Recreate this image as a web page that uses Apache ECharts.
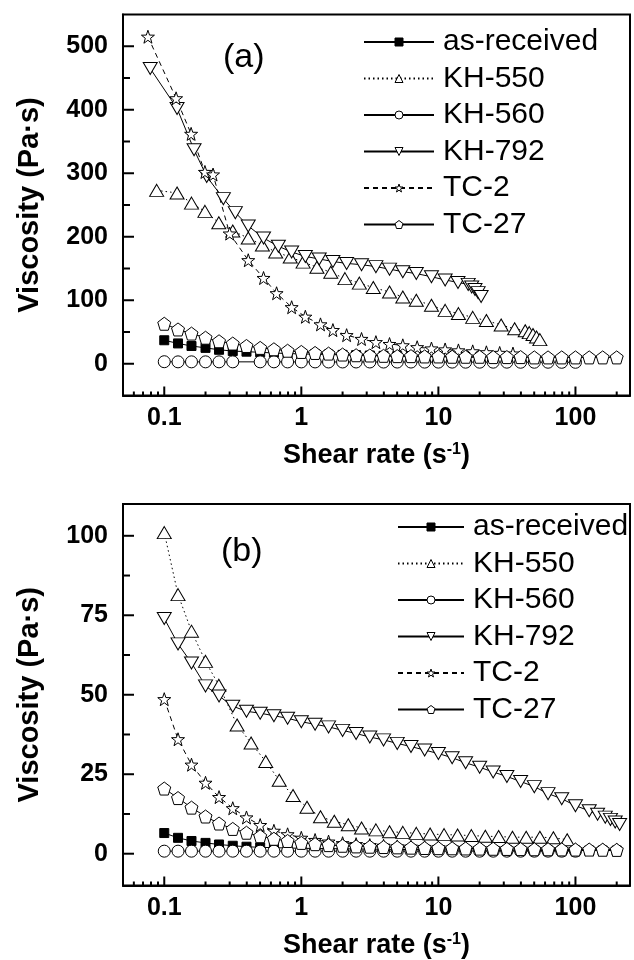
<!DOCTYPE html>
<html><head><meta charset="utf-8">
<script src="https://cdn.jsdelivr.net/npm/echarts@6/dist/echarts.min.js"></script>
<style>html,body{margin:0;padding:0;background:#fff}#c{width:634px;height:960px}</style>
</head><body><div id="c"></div>
<script>
// ---- tick values ----
const xTickLabels = [0.1, 1, 10, 100];
const xMinorTicks = [0.06,0.07,0.08,0.09,0.2,0.3,0.4,0.5,0.6,0.7,0.8,0.9,2,3,4,5,6,7,8,9,20,30,40,50,60,70,80,90,200];
const yTicksA = [0,100,200,300,400,500];
const yMinorA = [50,150,250,350,450];
const yTicksB = [0,25,50,75,100];
const yMinorB = [12.5,37.5,62.5,87.5];
const seriesNames = ['as-received','KH-550','KH-560','KH-792','TC-2','TC-27'];

// ---- panel (a) ----
const aAsRecX = [0.1,0.126,0.158,0.2,0.251,0.316,0.398,0.501,0.631,0.794,1,1.26,1.58,2,2.51,3.16,3.98,5.01,6.31,7.94,10,12.6,15.8,20];
const aAsRecY = [37,32,28,25,22,20,19,18,17,16,15.5,15,14.5,14,13.5,13,12.5,12,12,11.5,11,11,10.5,10];
const aKH550X = [0.088,0.124,0.158,0.198,0.25,0.316,0.41,0.52,0.65,0.83,1.03,1.3,1.64,2.08,2.65,3.35,4.4,5.5,6.9,8.9,11.2,14,17.8,22.4,28.7,36,43,46,49,52,55];
const aKH550Y = [273,269,253,240,222,209,198,187,176,168,160,152,144,134,127,120,113,105,100,92,84,79,73,68,61,55,52,49,46,42,38];
const aKH560X = [0.1,0.126,0.158,0.2,0.251,0.316,0.501,0.631,0.794,1,1.26,1.58,2,2.51,3.16,3.98,5.01,6.31,7.94,10,12.6,15.8,20,25.1,31.6,39.8,50.1,63.1,79.4,100];
const aKH560Y = [3.2,3,3,3,3,3,3,3,2.9,2.9,2.9,2.8,2.8,2.8,2.8,2.7,2.7,2.7,2.6,2.6,2.6,2.5,2.5,2.5,2.5,2.4,2.4,2.4,2.3,2.3];
const aKH792X = [0.079,0.124,0.165,0.204,0.27,0.33,0.41,0.53,0.68,0.85,1.07,1.35,1.7,2.14,2.75,3.5,4.4,5.5,6.9,8.9,11.2,13.9,16.5,17.5,18.5,19.5,20.5];
const aKH792Y = [465,402,337,295,260,238,217,198,185,176,169,165,161,158,156,153,149,145,142,137,132,128,125,121,117,112,106];
const aTC2X = [0.076,0.122,0.157,0.198,0.227,0.3,0.41,0.53,0.66,0.85,1.07,1.38,1.7,2.14,2.75,3.5,4.4,5.5,7,8.9,11.2,14,17.8,22.4,28,35];
const aTC2Y = [515,418,362,302,298,205,163,135,111,89,74,62,53,45,39,34,31,29,26,24,22.5,21,19.5,18,17,16];
const aTC27X = [0.1,0.126,0.158,0.2,0.251,0.316,0.398,0.501,0.631,0.794,1,1.26,1.58,2,2.51,3.16,3.98,5.01,6.31,7.94,10,12.6,15.8,20,25.1,31.6,39.8,50.1,63.1,79.4,100,126,158,200];
const aTC27Y = [63,54,47.5,41,35.4,31.8,28,25,22.8,20.5,18.6,17,16,14.5,13.4,13,12.5,12,12,11.5,11.5,11,11,11,10.5,10.5,10.5,10,10,10,10,10,10,10];

// ---- panel (b) ----
const bAsRecX = [0.1,0.126,0.158,0.2,0.251,0.316,0.398,0.501,0.631,0.794,1,1.26,1.58,2,2.51,3.16,3.98,5.01,6.31,7.94,10,12.6,15.8,20,25.1,31.6,39.8,50.1,63.1,79.4,100,126,158,200];
const bAsRecY = [6.5,5,4,3.4,2.9,2.5,2.2,2,1.9,1.8,1.7,1.65,1.6,1.55,1.5,1.45,1.4,1.35,1.3,1.3,1.25,1.2,1.2,1.15,1.1,1.1,1.05,1.05,1,1,1,1,1,1];
const bKH550X = [0.1,0.126,0.158,0.2,0.25,0.34,0.43,0.55,0.69,0.87,1.1,1.38,1.74,2.2,2.75,3.5,4.4,5.5,6.9,8.7,11,13.8,17.4,22,27.5,34.7,43.7,55,69,87];
const bKH550Y = [101,81.5,70,60.5,53,40.5,34.8,29,23.1,18.3,14.6,11.6,10.2,9.1,8.1,7.5,6.9,6.7,6.4,6.2,6,5.9,5.7,5.5,5.4,5.2,5.2,5.2,5,4.4];
const bKH560X = [0.1,0.126,0.158,0.2,0.251,0.316,0.398,0.501,0.631,0.794,1,1.26,1.58,2,2.51,3.16,3.98,5.01,6.31,7.94,10,12.6,15.8,20,25.1,31.6,39.8,50.1,63.1,79.4,100];
const bKH560Y = [0.8,0.8,0.8,0.8,0.8,0.8,0.8,0.8,0.8,0.8,0.8,0.8,0.8,0.8,0.8,0.8,0.8,0.8,0.8,0.8,0.8,0.8,0.8,0.8,0.8,0.8,0.8,0.8,0.8,0.8,0.8];
const bKH792X = [0.1,0.126,0.158,0.2,0.251,0.316,0.398,0.501,0.631,0.794,1,1.26,1.58,2,2.51,3.16,3.98,5.01,6.31,7.94,10,12.6,15.8,20,25.1,31.6,39.8,50.1,63.1,79.4,100,126,145,165,180,195,210];
const bKH792Y = [74,66,60,52.8,49.6,46.4,44.8,44.2,43.4,42.6,41.5,40.7,39.9,38.8,37.8,36.7,35.8,34.7,33.7,32.6,31.5,30.2,28.6,27.2,25.7,24.3,22.7,21.1,18.9,17.3,15.1,13.5,12.4,11.5,10.8,10,9.2];
const bTC2X = [0.1,0.126,0.158,0.2,0.251,0.316,0.398,0.501,0.631,0.794,1,1.26,1.58,2,2.51,3.16,3.98,5.01,6.31,7.94,10,12.6,15.8,20,25.1,31.6,39.8,50.1,63.1,79.4,100,126,158,200];
const bTC2Y = [48.6,36,28,22.3,17.8,14.3,11.4,9,7.2,6.1,5,4.3,3.8,3.3,3,2.7,2.5,2.3,2.2,2.1,2,1.9,1.8,1.75,1.7,1.6,1.55,1.5,1.45,1.4,1.35,1.3,1.3,1.25];
const bTC27X = [0.1,0.126,0.158,0.2,0.251,0.316,0.398,0.501,0.631,0.794,1,1.26,1.58,2,2.51,3.16,3.98,5.01,6.31,7.94,10,12.6,15.8,20,25.1,31.6,39.8,50.1,63.1,79.4,100,126,158,200];
const bTC27Y = [20.5,17.5,14.5,11.7,9.5,7.8,6.6,5.5,4.7,4,3.4,3,2.7,2.5,2.3,2.2,2.1,2,1.9,1.8,1.75,1.7,1.65,1.6,1.55,1.5,1.45,1.4,1.4,1.35,1.3,1.3,1.25,1.2];

// ---- build ----
const FONT = "'Liberation Sans', Arial, sans-serif";
const STAR = 'path://M50 0L61.76 33.82L97.55 34.55L69.02 56.18L79.39 90.45L50 70L20.61 90.45L30.98 56.18L2.45 34.55L38.24 33.82Z';
const PENT = 'path://M50 0L97.55 34.55L79.39 90.45L20.61 90.45L2.45 34.55Z';
const DOWN = 'path://M0 0L100 0L50 86Z';
const X_MIN = 0.05, X_MAX = 250;
const look = {
  'as-received': {symbol:'rect', size:9, fill:'#000', dash:'solid'},
  'KH-550': {symbol:'triangle', size:[14,12], fill:'#fff', dash:[1.5,3]},
  'KH-560': {symbol:'circle', size:12, fill:'#fff', dash:'solid'},
  'KH-792': {symbol:DOWN, size:[14,12], fill:'#fff', dash:'solid'},
  'TC-2': {symbol:STAR, size:13, fill:'#fff', dash:[5,4]},
  'TC-27': {symbol:PENT, size:13, fill:'#fff', dash:'solid'}
};
const pts = (xs, ys) => xs.map((x, i) => [x, ys[i]]);
const panelA = [pts(aAsRecX,aAsRecY), pts(aKH550X,aKH550Y), pts(aKH560X,aKH560Y), pts(aKH792X,aKH792Y), pts(aTC2X,aTC2Y), pts(aTC27X,aTC27Y)];
const panelB = [pts(bAsRecX,bAsRecY), pts(bKH550X,bKH550Y), pts(bKH560X,bKH560Y), pts(bKH792X,bKH792Y), pts(bTC2X,bTC2Y), pts(bTC27X,bTC27Y)];

function mkSeries(data, gi) {
  return seriesNames.map((n, i) => ({
    name: n, type: 'line', xAxisIndex: gi, yAxisIndex: gi,
    data: data[i], symbol: look[n].symbol, symbolSize: look[n].size,
    showAllSymbol: true, clip: true, z: 3,
    lineStyle: {color: '#000', width: 1, type: look[n].dash},
    itemStyle: {color: look[n].fill, borderColor: '#000', borderWidth: 1},
    emphasis: {disabled: true}
  }));
}
// tick marks drawn through the axes' own scales
function tickSeries(gi, yMin, yMajor, yMinor) {
  const xData = [...xTickLabels.map(v => [v, yMin, 9]), ...xMinorTicks.map(v => [v, yMin, 4])];
  const yData = [...yMajor.map(v => [X_MIN, v, 11]), ...yMinor.map(v => [X_MIN, v, 7])];
  const common = {type: 'custom', xAxisIndex: gi, yAxisIndex: gi, silent: true, clip: false, z: 4,
    encode: {x: 0, y: 1}, animation: false};
  return [
    {...common, data: xData, renderItem: (p, api) => {
      const c = api.coord([api.value(0), api.value(1)]);
      return {type: 'line', shape: {x1: c[0], y1: c[1], x2: c[0], y2: c[1] - api.value(2)}, style: {stroke: '#000', lineWidth: 2}};
    }},
    {...common, data: yData, renderItem: (p, api) => {
      const c = api.coord([api.value(0), api.value(1)]);
      return {type: 'line', shape: {x1: c[0], y1: c[1], x2: c[0] + api.value(2), y2: c[1]}, style: {stroke: '#000', lineWidth: 2}};
    }}
  ];
}
const lbl = {fontFamily: FONT, fontWeight: 'bold', fontSize: 25, color: '#000'};
function xAxis(gi) {
  return {
    type: 'log', gridIndex: gi, min: X_MIN, max: X_MAX, logBase: 10,
    name: 'Shear rate (s{sup|-1})', nameLocation: 'middle', nameGap: 46,
    nameTextStyle: {fontFamily: FONT, fontWeight: 'bold', fontSize: 27, color: '#000',
      rich: {sup: {fontFamily: FONT, fontWeight: 'bold', fontSize: 16, color: '#000', verticalAlign: 'top', padding: [0,0,12,0]}}},
    axisLine: {show: true, onZero: false, lineStyle: {color: '#000', width: 2}},
    axisTick: {show: false},
    axisLabel: {customValues: xTickLabels, margin: 10, ...lbl},
    splitLine: {show: false}, minorTick: {show: false}
  };
}
function yAxis(gi, min, max, major) {
  return {
    type: 'value', gridIndex: gi, min: min, max: max,
    name: 'Viscosity (Pa·s)', nameLocation: 'middle', nameRotate: 90, nameGap: 79,
    nameTextStyle: {fontFamily: FONT, fontWeight: 'bold', fontSize: 29, color: '#000'},
    axisLine: {show: true, onZero: false, lineStyle: {color: '#000', width: 2}},
    axisTick: {show: false},
    axisLabel: {customValues: major, margin: 15, ...lbl},
    splitLine: {show: false}
  };
}
const legendItems = seriesNames.map(n => ({name: n, itemStyle: {color: look[n].fill, borderColor: '#000', borderWidth: 1}}));
const legendBase = {
  orient: 'vertical', itemGap: 6.5, itemHeight: 10,
  textStyle: {fontFamily: FONT, fontSize: 30, color: '#000', lineHeight: 30, padding: [0,0,0,4]},
  data: legendItems, selectedMode: false
};
const option = {
  animation: false,
  backgroundColor: '#fff',
  grid: [
    {left: 123, right: 4, top: 14.5, height: 381, show: true, borderColor: '#000', borderWidth: 2, backgroundColor: 'transparent'},
    {left: 123, right: 4, top: 504, height: 382, show: true, borderColor: '#000', borderWidth: 2, backgroundColor: 'transparent'}
  ],
  xAxis: [xAxis(0), xAxis(1)],
  yAxis: [yAxis(0, -50, 550, yTicksA), yAxis(1, -10, 110, yTicksB)],
  legend: [
    {...legendBase, left: 358, top: 22, itemWidth: 70},
    {...legendBase, left: 392, top: 507, itemWidth: 66}
  ],
  graphic: [
    {type: 'text', left: 223, top: 41, style: {text: '(a)', font: '34px ' + FONT, fill: '#000'}},
    {type: 'text', left: 221, top: 535, style: {text: '(b)', font: '34px ' + FONT, fill: '#000'}}
  ],
  series: [...mkSeries(panelA, 0), ...mkSeries(panelB, 1), ...tickSeries(0, -50, yTicksA, yMinorA), ...tickSeries(1, -10, yTicksB, yMinorB)]
};
const chart = echarts.init(document.getElementById('c'), null, {renderer: 'canvas'});
chart.setOption(option);
</script></body></html>
